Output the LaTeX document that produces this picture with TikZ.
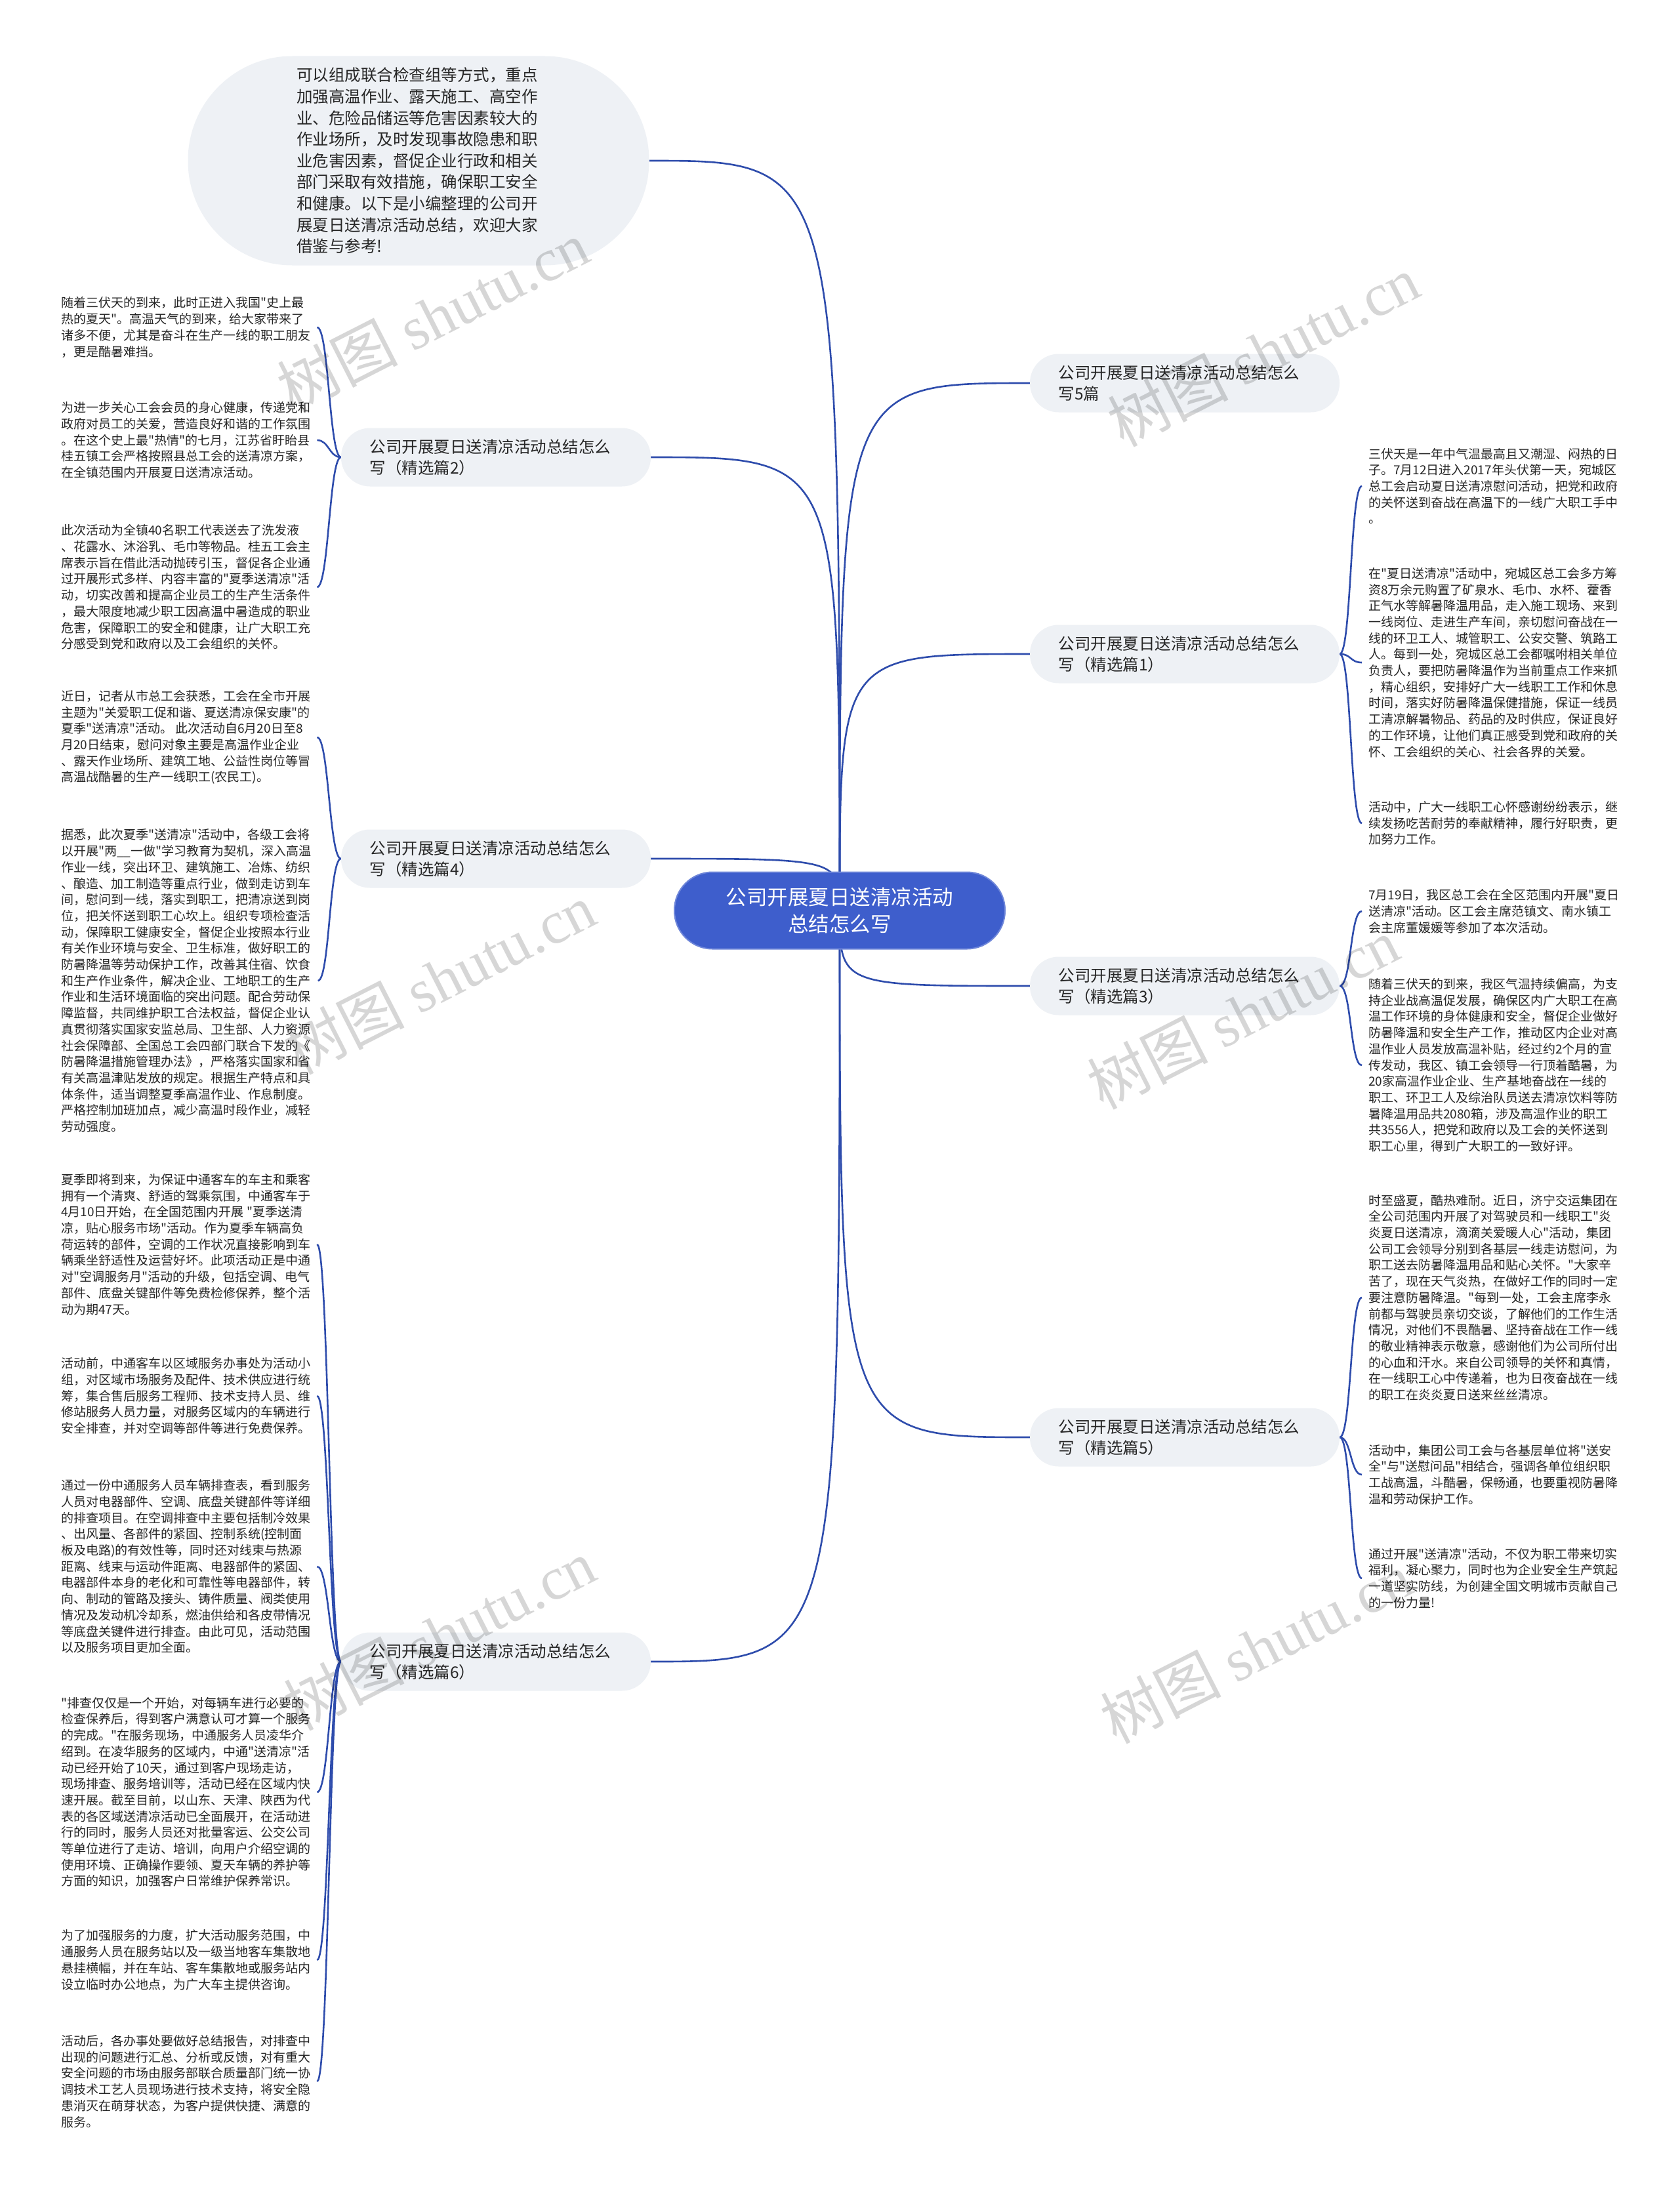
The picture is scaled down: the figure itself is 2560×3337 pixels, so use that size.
\documentclass[tikz,border=0pt]{standalone}
\usepackage{fontspec}
\setmainfont{Noto Sans CJK SC}[Ligatures=TeXOff]
\newfontfamily\wmfont{Liberation Serif}
\usetikzlibrary{backgrounds}

\definecolor{rootblue}{RGB}{62,94,204}
\definecolor{linkblue}{RGB}{46,76,172}
\definecolor{pillgray}{RGB}{238,241,245}
\definecolor{textgray}{RGB}{38,38,38}

\begin{document}
\begin{tikzpicture}[
    x=1pt, y=-1pt,
    root node/.style={rectangle,rounded corners=58pt,fill=rootblue,draw=rootblue!75!white,line width=2pt,minimum width=504pt,minimum height=117pt,text=white,align=center,font=\fontsize{31.5}{41}\selectfont},
    intro node/.style={rectangle,rounded corners=159pt,fill=pillgray,minimum width=703pt,minimum height=319pt,text width=372pt,align=left,text=textgray,font=\fontsize{24.5}{32.6}\selectfont},
    branch node/.style={rectangle,rounded corners=44pt,fill=pillgray,minimum width=472pt,minimum height=89pt,inner sep=0pt,text width=385pt,align=left,text=textgray,font=\fontsize{24.5}{32}\selectfont},
    leaf node/.style={inner xsep=10pt,inner ysep=0pt,anchor=west,align=left,text=textgray,font=\fontsize{19}{24.7}\selectfont},
    wm node/.style={rotate=27,text=black!16,font=\fontsize{92}{92}\selectfont},
    link/.style={draw=linkblue,line width=2.6pt}
]
\useasboundingbox (0,0) rectangle (2560,3337);

\node[root node] (root) at (1280,1388) {公司开展夏日送清凉活动\\总结怎么写};

\node[intro node] (intro) at (638,245) {可以组成联合检查组等方式，重点\\加强高温作业、露天施工、高空作\\业、危险品储运等危害因素较大的\\作业场所，及时发现事故隐患和职\\业危害因素，督促企业行政和相关\\部门采取有效措施，确保职工安全\\和健康。以下是小编整理的公司开\\展夏日送清凉活动总结，欢迎大家\\借鉴与参考!};

\node[branch node] (b2) at (756,697) {公司开展夏日送清凉活动总结怎么\\写（精选篇2）};
\node[branch node] (b4) at (756,1309) {公司开展夏日送清凉活动总结怎么\\写（精选篇4）};
\node[branch node] (b6) at (756,2533) {公司开展夏日送清凉活动总结怎么\\写（精选篇6）};
\node[branch node] (b0) at (1806,584) {公司开展夏日送清凉活动总结怎么\\写5篇};
\node[branch node] (b1) at (1806,997) {公司开展夏日送清凉活动总结怎么\\写（精选篇1）};
\node[branch node] (b3) at (1806,1503) {公司开展夏日送清凉活动总结怎么\\写（精选篇3）};
\node[branch node] (b5) at (1806,2191) {公司开展夏日送清凉活动总结怎么\\写（精选篇5）};

\node[leaf node] (l2a) at (83,499) {随着三伏天的到来，此时正进入我国"史上最\\热的夏天"。高温天气的到来，给大家带来了\\诸多不便，尤其是奋斗在生产一线的职工朋友\\，更是酷暑难挡。};
\node[leaf node] (l2b) at (83,671) {为进一步关心工会会员的身心健康，传递党和\\政府对员工的关爱，营造良好和谐的工作氛围\\。在这个史上最"热情"的七月，江苏省盱眙县\\桂五镇工会严格按照县总工会的送清凉方案，\\在全镇范围内开展夏日送清凉活动。};
\node[leaf node] (l2c) at (83,895) {此次活动为全镇40名职工代表送去了洗发液\\、花露水、沐浴乳、毛巾等物品。桂五工会主\\席表示旨在借此活动抛砖引玉，督促各企业通\\过开展形式多样、内容丰富的"夏季送清凉"活\\动，切实改善和提高企业员工的生产生活条件\\，最大限度地减少职工因高温中暑造成的职业\\危害，保障职工的安全和健康，让广大职工充\\分感受到党和政府以及工会组织的关怀。};

\node[leaf node] (l4a) at (83,1124) {近日，记者从市总工会获悉，工会在全市开展\\主题为"关爱职工促和谐、夏送清凉保安康"的\\夏季"送清凉"活动。 此次活动自6月20日至8\\月20日结束，慰问对象主要是高温作业企业\\、露天作业场所、建筑工地、公益性岗位等冒\\高温战酷暑的生产一线职工(农民工)。};
\node[leaf node] (l4b) at (83,1495) {据悉，此次夏季"送清凉"活动中，各级工会将\\以开展"两\_\_一做"学习教育为契机，深入高温\\作业一线，突出环卫、建筑施工、冶炼、纺织\\、酿造、加工制造等重点行业，做到走访到车\\间，慰问到一线，落实到职工，把清凉送到岗\\位，把关怀送到职工心坎上。组织专项检查活\\动，保障职工健康安全，督促企业按照本行业\\有关作业环境与安全、卫生标准，做好职工的\\防暑降温等劳动保护工作，改善其住宿、饮食\\和生产作业条件，解决企业、工地职工的生产\\作业和生活环境面临的突出问题。配合劳动保\\障监督，共同维护职工合法权益，督促企业认\\真贯彻落实国家安监总局、卫生部、人力资源\\社会保障部、全国总工会四部门联合下发的《\\防暑降温措施管理办法》，严格落实国家和省\\有关高温津贴发放的规定。根据生产特点和具\\体条件，适当调整夏季高温作业、作息制度。\\严格控制加班加点，减少高温时段作业，减轻\\劳动强度。};

\node[leaf node] (l6a) at (83,1897) {夏季即将到来，为保证中通客车的车主和乘客\\拥有一个清爽、舒适的驾乘氛围，中通客车于\\4月10日开始，在全国范围内开展 "夏季送清\\凉，贴心服务市场"活动。作为夏季车辆高负\\荷运转的部件，空调的工作状况直接影响到车\\辆乘坐舒适性及运营好坏。此项活动正是中通\\对"空调服务月"活动的升级，包括空调、电气\\部件、底盘关键部件等免费检修保养，整个活\\动为期47天。};
\node[leaf node] (l6b) at (83,2128) {活动前，中通客车以区域服务办事处为活动小\\组，对区域市场服务及配件、技术供应进行统\\筹，集合售后服务工程师、技术支持人员、维\\修站服务人员力量，对服务区域内的车辆进行\\安全排查，并对空调等部件等进行免费保养。};
\node[leaf node] (l6c) at (83,2388) {通过一份中通服务人员车辆排查表，看到服务\\人员对电器部件、空调、底盘关键部件等详细\\的排查项目。在空调排查中主要包括制冷效果\\、出风量、各部件的紧固、控制系统(控制面\\板及电路)的有效性等，同时还对线束与热源\\距离、线束与运动件距离、电器部件的紧固、\\电器部件本身的老化和可靠性等电器部件，转\\向、制动的管路及接头、铸件质量、阀类使用\\情况及发动机冷却系，燃油供给和各皮带情况\\等底盘关键件进行排查。由此可见，活动范围\\以及服务项目更加全面。};
\node[leaf node] (l6d) at (83,2732) {"排查仅仅是一个开始，对每辆车进行必要的\\检查保养后，得到客户满意认可才算一个服务\\的完成。"在服务现场，中通服务人员凌华介\\绍到。在凌华服务的区域内，中通"送清凉"活\\动已经开始了10天，通过到客户现场走访，\\现场排查、服务培训等，活动已经在区域内快\\速开展。截至目前，以山东、天津、陕西为代\\表的各区域送清凉活动已全面展开，在活动进\\行的同时，服务人员还对批量客运、公交公司\\等单位进行了走访、培训，向用户介绍空调的\\使用环境、正确操作要领、夏天车辆的养护等\\方面的知识，加强客户日常维护保养常识。};
\node[leaf node] (l6e) at (83,2988) {为了加强服务的力度，扩大活动服务范围，中\\通服务人员在服务站以及一级当地客车集散地\\悬挂横幅，并在车站、客车集散地或服务站内\\设立临时办公地点，为广大车主提供咨询。};
\node[leaf node] (l6f) at (83,3173) {活动后，各办事处要做好总结报告，对排查中\\出现的问题进行汇总、分析或反馈，对有重大\\安全问题的市场由服务部联合质量部门统一协\\调技术工艺人员现场进行技术支持，将安全隐\\患消灭在萌芽状态，为客户提供快捷、满意的\\服务。};

\node[leaf node] (r1a) at (2076,741) {三伏天是一年中气温最高且又潮湿、闷热的日\\子。7月12日进入2017年头伏第一天，宛城区\\总工会启动夏日送清凉慰问活动，把党和政府\\的关怀送到奋战在高温下的一线广大职工手中\\。};
\node[leaf node] (r1b) at (2076,1010) {在"夏日送清凉"活动中，宛城区总工会多方筹\\资8万余元购置了矿泉水、毛巾、水杯、藿香\\正气水等解暑降温用品，走入施工现场、来到\\一线岗位、走进生产车间，亲切慰问奋战在一\\线的环卫工人、城管职工、公安交警、筑路工\\人。每到一处，宛城区总工会都嘱咐相关单位\\负责人，要把防暑降温作为当前重点工作来抓\\，精心组织，安排好广大一线职工工作和休息\\时间，落实好防暑降温保健措施，保证一线员\\工清凉解暑物品、药品的及时供应，保证良好\\的工作环境，让他们真正感受到党和政府的关\\怀、工会组织的关心、社会各界的关爱。};
\node[leaf node] (r1c) at (2076,1255) {活动中，广大一线职工心怀感谢纷纷表示，继\\续发扬吃苦耐劳的奉献精神，履行好职责，更\\加努力工作。};

\node[leaf node] (r3a) at (2076,1389) {7月19日，我区总工会在全区范围内开展"夏日\\送清凉"活动。区工会主席范镇文、南水镇工\\会主席董媛媛等参加了本次活动。};
\node[leaf node] (r3b) at (2076,1624) {随着三伏天的到来，我区气温持续偏高，为支\\持企业战高温促发展，确保区内广大职工在高\\温工作环境的身体健康和安全，督促企业做好\\防暑降温和安全生产工作，推动区内企业对高\\温作业人员发放高温补贴，经过约2个月的宣\\传发动，我区、镇工会领导一行顶着酷暑，为\\20家高温作业企业、生产基地奋战在一线的\\职工、环卫工人及综治队员送去清凉饮料等防\\暑降温用品共2080箱，涉及高温作业的职工\\共3556人，把党和政府以及工会的关怀送到\\职工心里，得到广大职工的一致好评。};

\node[leaf node] (r5a) at (2076,1978) {时至盛夏，酷热难耐。近日，济宁交运集团在\\全公司范围内开展了对驾驶员和一线职工"炎\\炎夏日送清凉，滴滴关爱暖人心"活动，集团\\公司工会领导分别到各基层一线走访慰问，为\\职工送去防暑降温用品和贴心关怀。"大家辛\\苦了，现在天气炎热，在做好工作的同时一定\\要注意防暑降温。"每到一处，工会主席李永\\前都与驾驶员亲切交谈，了解他们的工作生活\\情况，对他们不畏酷暑、坚持奋战在工作一线\\的敬业精神表示敬意，感谢他们为公司所付出\\的心血和汗水。来自公司领导的关怀和真情，\\在一线职工心中传递着，也为日夜奋战在一线\\的职工在炎炎夏日送来丝丝清凉。};
\node[leaf node] (r5b) at (2076,2248) {活动中，集团公司工会与各基层单位将"送安\\全"与"送慰问品"相结合，强调各单位组织职\\工战高温，斗酷暑，保畅通，也要重视防暑降\\温和劳动保护工作。};
\node[leaf node] (r5c) at (2076,2406) {通过开展"送清凉"活动，不仅为职工带来切实\\福利，凝心聚力，同时也为企业安全生产筑起\\一道坚实防线，为创建全国文明城市贡献自己\\的一份力量!};

\begin{scope}[on background layer]
\fill[white] (0,0) rectangle (2560,3337);
\draw[link] (root.center) .. controls (root.center |- intro.east) .. (intro.east);
\draw[link] (root.center) .. controls (root.center |- b2.east) .. (b2.east);
\draw[link] (root.center) .. controls (root.center |- b4.east) .. (b4.east);
\draw[link] (root.center) .. controls (root.center |- b6.east) .. (b6.east);
\draw[link] (root.center) .. controls (root.center |- b0.west) .. (b0.west);
\draw[link] (root.center) .. controls (root.center |- b1.west) .. (b1.west);
\draw[link] (root.center) .. controls (root.center |- b3.west) .. (b3.west);
\draw[link] (root.center) .. controls (root.center |- b5.west) .. (b5.west);

\draw[link] (b2.west) .. controls +(-18,0) and +(18,0) .. (l2a.east);
\draw[link] (b2.west) .. controls +(-18,0) and +(18,0) .. (l2b.east);
\draw[link] (b2.west) .. controls +(-18,0) and +(18,0) .. (l2c.east);
\draw[link] (b4.west) .. controls +(-18,0) and +(18,0) .. (l4a.east);
\draw[link] (b4.west) .. controls +(-18,0) and +(18,0) .. (l4b.east);
\draw[link] (b6.west) .. controls +(-18,0) and +(18,0) .. (l6a.east);
\draw[link] (b6.west) .. controls +(-18,0) and +(18,0) .. (l6b.east);
\draw[link] (b6.west) .. controls +(-18,0) and +(18,0) .. (l6c.east);
\draw[link] (b6.west) .. controls +(-18,0) and +(18,0) .. (l6d.east);
\draw[link] (b6.west) .. controls +(-18,0) and +(18,0) .. (l6e.east);
\draw[link] (b6.west) .. controls +(-18,0) and +(18,0) .. (l6f.east);
\draw[link] (b1.east) .. controls +(18,0) and +(-18,0) .. (r1a.west);
\draw[link] (b1.east) .. controls +(18,0) and +(-18,0) .. (r1b.west);
\draw[link] (b1.east) .. controls +(18,0) and +(-18,0) .. (r1c.west);
\draw[link] (b3.east) .. controls +(18,0) and +(-18,0) .. (r3a.west);
\draw[link] (b3.east) .. controls +(18,0) and +(-18,0) .. (r3b.west);
\draw[link] (b5.east) .. controls +(18,0) and +(-18,0) .. (r5a.west);
\draw[link] (b5.east) .. controls +(18,0) and +(-18,0) .. (r5b.west);
\draw[link] (b5.east) .. controls +(18,0) and +(-18,0) .. (r5c.west);
\end{scope}

\begin{scope}[blend mode=multiply]
\node[wm node] (wm1) at (660,482) {树图 {\wmfont shutu.cn}};
\node[wm node] (wm2) at (1926,535) {树图 {\wmfont shutu.cn}};
\node[wm node] (wm3) at (670,1492) {树图 {\wmfont shutu.cn}};
\node[wm node] (wm4) at (1895,1545) {树图 {\wmfont shutu.cn}};
\node[wm node] (wm5) at (670,2492) {树图 {\wmfont shutu.cn}};
\node[wm node] (wm6) at (1915,2512) {树图 {\wmfont shutu.cn}};
\end{scope}

\end{tikzpicture}
\end{document}
